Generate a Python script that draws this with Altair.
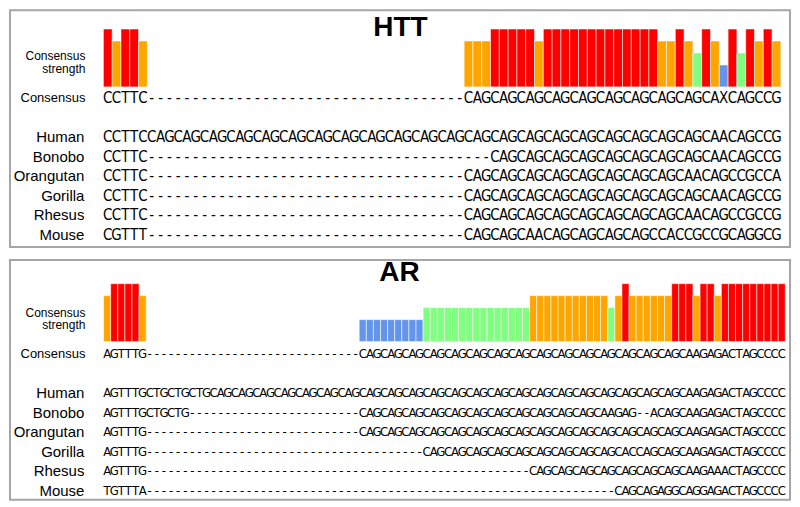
import altair as alt
import pandas as pd

species = ["Human", "Bonobo", "Orangutan", "Gorilla", "Rhesus", "Mouse"]
titles = ["HTT", "AR"]

# ---------------- HTT alignment (77 columns) ----------------
htt_consensus = ("CCTTC" "------------" "------------" "------------"
                 "CAGCAGCAGCAGCAGCAGCAGCAGCAG" "CAXCAGCCG")
htt_human = ("CCTTC" "CAGCAGCAGCAGCAGCAGCAG" "CAGCAGCAGCAGCAGCAGCAG"
             "CAGCAGCAGCAGCAGCAGCAG" "CAACAGCCG")
htt_bonobo = ("CCTTC" "------------" "------------" "------------" "---"
              "CAGCAGCAGCAGCAGCAGCAGCAG" "CAACAGCCG")
htt_orangutan = ("CCTTC" "------------" "------------" "------------"
                 "CAGCAGCAGCAGCAGCAGCAGCAG" "CAACAGCCGCCA")
htt_gorilla = ("CCTTC" "------------" "------------" "------------"
               "CAGCAGCAGCAGCAGCAGCAGCAGCAG" "CAACAGCCG")
htt_rhesus = ("CCTTC" "------------" "------------" "------------"
              "CAGCAGCAGCAGCAGCAGCAGCAG" "CAACAGCCGCCG")
htt_mouse = ("CGTTT" "------------" "------------" "------------"
             "CAGCAGCAACAGCAGCAGCAGCCACCGCCGCAGGCG")
htt_sequences = [htt_human, htt_bonobo, htt_orangutan, htt_gorilla, htt_rhesus, htt_mouse]
# consensus strength (number of agreeing sequences) for each non-gap consensus column
htt_strength = [6, 5, 6, 6, 5,
                5, 5, 5, 6, 6, 6, 6, 6, 5, 6, 6, 6, 6, 6, 6, 6, 6, 6, 6, 6, 6, 6,
                5, 5, 6, 5, 4, 6, 5, 3, 6, 4, 6, 5, 6, 5]

# ---------------- AR alignment (96 columns) ----------------
ar_consensus = ("AGTTTG" "---------------" "---------------"
                "CAGCAGCAGCAGCAG" "CAGCAGCAGCAGCAG" "CAGCAGCAGCAGCAG" "CAAGAGACTAGCCCC")
ar_human = ("AGTTTG" "CTGCTGCTG"
            "CAGCAGCAGCAGCAG" "CAGCAGCAGCAGCAG" "CAGCAGCAGCAGCAG" "CAGCAGCAGCAGCAG" "CAGCAG"
            "CAAGAGACTAGCCCC")
ar_bonobo = ("AGTTTGCTGCTG" "------------" "------------"
             "CAGCAGCAGCAGCAG" "CAGCAGCAGCAGCAG" "CAGCAAGAG" "--" "ACAG" "CAAGAGACTAGCCCC")
ar_orangutan = ("AGTTTG" "---------------" "---------------"
                "CAGCAGCAGCAGCAG" "CAGCAGCAGCAGCAG" "CAGCAGCAGCAGCAG" "CAAGAGACTAGCCCC")
ar_gorilla = ("AGTTTG" "---------------" "---------------" "---------"
              "CAGCAGCAGCAGCAG" "CAGCAGCAGCAG" "CAC" "CAGCAG" "CAAGAGACTAGCCCC")
ar_rhesus = ("AGTTTG" "---------------" "---------------" "---------------" "---------"
             "CAGCAGCAGCAGCAG" "CAGCAG" "CAAGAAACTAGCCCC")
ar_mouse = ("TGTTTA" "---------------" "---------------" "---------------" "---------------"
            "------" "CAGCAGAGGCAGGAGACTAGCCCC")
ar_sequences = [ar_human, ar_bonobo, ar_orangutan, ar_gorilla, ar_rhesus, ar_mouse]
ar_strength = [5, 6, 6, 6, 6, 5,
               3, 3, 3, 3, 3, 3, 3, 3, 3,
               4, 4, 4, 4, 4, 4, 4, 4, 4, 4, 4, 4, 4, 4, 4,
               5, 5, 5, 5, 5, 5, 5, 5, 5, 5, 5,
               4, 5, 6, 5, 5, 5, 5, 5, 5,
               6, 6, 6, 5, 6, 6, 5,
               6, 6, 6, 6, 6, 6, 6, 6, 6]

strength_levels = [3, 4, 5, 6]
strength_colors = ["#6495ed", "#80ff80", "#ffa500", "#ff0000"]

SEQ_FONT = "Liberation Sans Narrow, DejaVu Sans Condensed, Roboto Condensed, Liberation Sans"
LABEL_FONT = "Liberation Sans, Arial, sans-serif"

PANEL_W = 781


def panel(title, consensus, seqs, strength, p):
    L = len(consensus)
    xs = alt.Scale(domain=[0, L], range=[p["x0"], p["x0"] + L * p["cw"]])
    rows = ["Consensus", " "] + species
    ys = alt.Scale(type="point", domain=rows, range=[p["y_cons"], p["y_last"]], padding=0)

    recs = []
    for label, seq in [("Consensus", consensus)] + list(zip(species, seqs)):
        for i, ch in enumerate(seq):
            recs.append({"row": label, "col": i, "ch": ch})
    char_df = pd.DataFrame(recs)

    cols = [i for i, ch in enumerate(consensus) if ch != "-"]
    bar_df = pd.DataFrame({"col": cols, "strength": strength[:len(cols)]})

    bars = alt.Chart(bar_df).transform_calculate(xe="datum.col + 1").mark_bar(
        stroke="white", strokeWidth=1, strokeOpacity=0.55
    ).encode(
        x=alt.X("col:Q", scale=xs, axis=None),
        x2="xe:Q",
        y=alt.Y("strength:Q", scale=alt.Scale(domain=[3, 6], range=[p["base"] - 22, p["base"] - 58]), axis=None),
        y2=alt.value(p["base"]),
        color=alt.Color("strength:O", scale=alt.Scale(domain=strength_levels, range=strength_colors), legend=None),
    )

    chars = alt.Chart(char_df).transform_calculate(xc="datum.col + 0.5").mark_text(
        font=SEQ_FONT, fontSize=p["fs"], baseline="middle", align="center", color="black"
    ).encode(
        x=alt.X("xc:Q", scale=xs, axis=None),
        y=alt.Y("row:N", scale=ys, axis=None),
        text="ch:N",
    )

    labels = alt.Chart(pd.DataFrame({"row": species})).mark_text(
        align="right", baseline="middle", font=LABEL_FONT, fontSize=15, color="black"
    ).encode(
        x=alt.value(p["lx"]),
        y=alt.Y("row:N", scale=ys, axis=None),
        text="row:N",
    )

    cons_label = alt.Chart(pd.DataFrame({"row": ["Consensus"]})).mark_text(
        align="right", baseline="middle", font=LABEL_FONT, fontSize=13, color="black"
    ).encode(
        x=alt.value(p["lx"] + 1),
        y=alt.Y("row:N", scale=ys, axis=None),
        text="row:N",
    )

    strength_label = alt.Chart(pd.DataFrame({"t": ["Consensus strength"]})).mark_text(
        align="right", baseline="middle", font=LABEL_FONT, fontSize=12, lineHeight=12.5,
        text=["Consensus", "strength"], color="black"
    ).encode(
        x=alt.value(p["lx"] + 1),
        y=alt.value(p["sl_y"]),
    )

    title_layer = alt.Chart(pd.DataFrame({"title": [title]})).mark_text(
        align="center", baseline="alphabetic", font=LABEL_FONT, fontSize=28, fontWeight="bold", color="black"
    ).encode(
        x=alt.value(p["tx"]),
        y=alt.value(p["ty"]),
        text="title:N",
    )

    return alt.layer(bars, chars, labels, cons_label, strength_label, title_layer).resolve_scale(
        y="independent"
    ).properties(width=PANEL_W, height=p["h"])


htt_params = dict(x0=93.5, cw=8.81, y_cons=88, y_last=225, base=76.7, fs=15,
                  lx=74.5, sl_y=46, tx=391, ty=26, h=237)
ar_params = dict(x0=93.7, cw=7.11, y_cons=94, y_last=231, base=81.7, fs=13,
                 lx=74.5, sl_y=53, tx=390, ty=21, h=240)

top = panel(titles[0], htt_consensus, htt_sequences, htt_strength, htt_params)
bottom = panel(titles[1], ar_consensus, ar_sequences, ar_strength, ar_params)

chart = alt.vconcat(top, bottom, spacing=10).resolve_scale(
    x="independent", y="independent", color="independent"
).properties(
    padding={"left": 1, "top": 1, "right": 1, "bottom": 1}
).configure_view(stroke="#a6a6a6", strokeWidth=2)

chart.save("out.html", embed_options={"renderer": "svg", "actions": False})
